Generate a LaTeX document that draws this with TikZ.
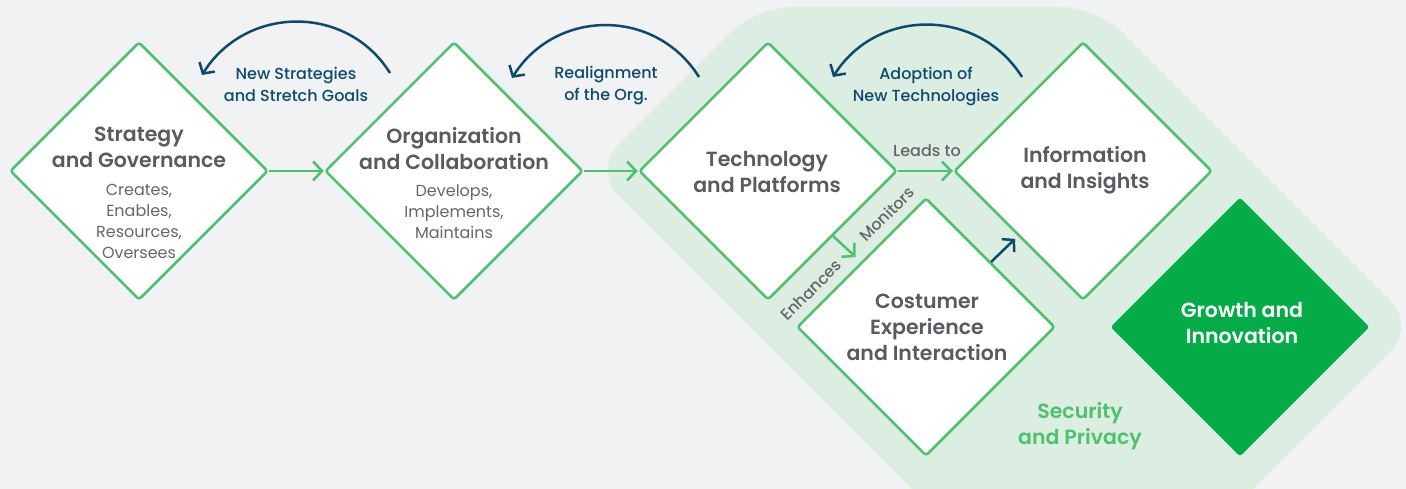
\documentclass[tikz,border=0pt]{standalone}
\usepackage{fontspec}
\setmainfont{Poppins}[BoldFont={Poppins SemiBold}]
\newfontfamily\pmed{Poppins Medium}
\usetikzlibrary{shapes.geometric,arrows.meta}
\definecolor{pagebg}{HTML}{F1F2F4}
\definecolor{zone}{HTML}{DCEDE2}
\definecolor{lgreen}{HTML}{4CC26E}
\definecolor{dgreen}{HTML}{03AC46}
\definecolor{navy}{HTML}{0E4A6E}
\definecolor{txtgray}{HTML}{5A5B61}
\definecolor{subgray}{HTML}{65666B}
\begin{document}
\begin{tikzpicture}[x=1pt,y=-1pt,
  box/.style={diamond, aspect=1, draw=lgreen, line width=2.5pt, fill=white,
    minimum width=258pt, minimum height=258pt, inner sep=0pt, rounded corners=3pt},
  gbox/.style={box, draw=none, fill=dgreen, minimum width=260pt, minimum height=260pt},
  ttl/.style={font=\bfseries\fontsize{20.5}{26}\selectfont, text=txtgray, align=center, inner sep=0pt},
  sub/.style={font=\fontsize{16}{21}\selectfont, text=subgray, align=center, inner sep=0pt},
  arcl/.style={font=\pmed\fontsize{16}{22}\selectfont, text=navy, align=center, inner sep=0pt},
  lbl/.style={font=\pmed\fontsize{16}{18}\selectfont, text=subgray, inner sep=0pt},
  garrow/.style={draw=lgreen, line width=2.5pt, -{Straight Barb[length=9pt,width=19pt]}},
  barrow/.style={draw=navy, line width=2.5pt, -{Straight Barb[length=8pt,width=18pt]}}
]
\useasboundingbox (0,0) rectangle (1406,489);
\fill[pagebg] (0,0) rectangle (1406,489);
\begin{scope}
  \clip (0,0) rectangle (1406,489);
  \fill[zone, rounded corners=36pt] (900,7) -- (1097,7) -- (1416,326) -- (1216,526)
    -- (949,526) -- (593,170) -- (756,7) -- cycle;
\end{scope}

% diamonds
\node[box] (sg) at (139,171) {};
\node[box] (oc) at (454,171) {};
\node[box] (tp) at (768,171) {};
\node[box] (ii) at (1083,171) {};
\node[box] (ce) at (926,327) {};
\node[gbox] (gi) at (1240,327) {};

% texts
\node[ttl] (sgt) at (139,147) {Strategy\\and Governance};
\node[sub] (sgs) at (139,221.5) {Creates,\\Enables,\\Resources,\\Oversees};
\node[ttl] (oct) at (454,148.5) {Organization\\and Collaboration};
\node[sub] (ocs) at (454,211.5) {Develops,\\Implements,\\Maintains};
\node[ttl] (tpt) at (767,172.5) {Technology\\and Platforms};
\node[ttl] (iit) at (1085,170.5) {Information\\and Insights};
\node[ttl] (cet) at (927,327) {Costumer\\Experience\\and Interaction};
\node[ttl, text=white] (git) at (1242,323.5) {Growth and\\Innovation};
\node[ttl, text=lgreen] (sp) at (1080,426) {Security\\and Privacy};

% straight connectors
\draw[garrow] (sg.east) -- (oc.west);
\draw[garrow] (oc.east) -- (tp.west);
\draw[garrow] (tp.east) -- (ii.west);
\node[lbl] (lt) at (927,151) {Leads to};
\draw[garrow, shorten >=7pt] (tp.south east) -- (ce.north west);
\node[lbl, rotate=45] (en) at (811,290) {Enhances};
\node[lbl, rotate=45] (mo) at (887,214) {Monitors};
\draw[barrow, shorten >=4pt] (ce.north east) -- (ii.south west);

% feedback arcs
\coordinate (a1s) at (390,73); \coordinate (a1e) at (202,75);
\coordinate (a2s) at (699,77); \coordinate (a2e) at (512,78);
\coordinate (a3s) at (1022,77); \coordinate (a3e) at (833,77);
\draw[barrow] (a1s) .. controls (346.5,3.5) and (245.5,5.5) .. (a1e);
\draw[barrow] (a2s) .. controls (655.5,7.5) and (555.5,8.5) .. (a2e);
\draw[barrow] (a3s) .. controls (978.5,7.5) and (876.5,7.5) .. (a3e);
\node[arcl] (l1) at (296,84) {New Strategies\\and Stretch Goals};
\node[arcl] (l2) at (606,86) {Realignment\\of the Org.};
\node[arcl] (l3) at (926,87) {Adoption of\\New Technologies};
\end{tikzpicture}
\end{document}
